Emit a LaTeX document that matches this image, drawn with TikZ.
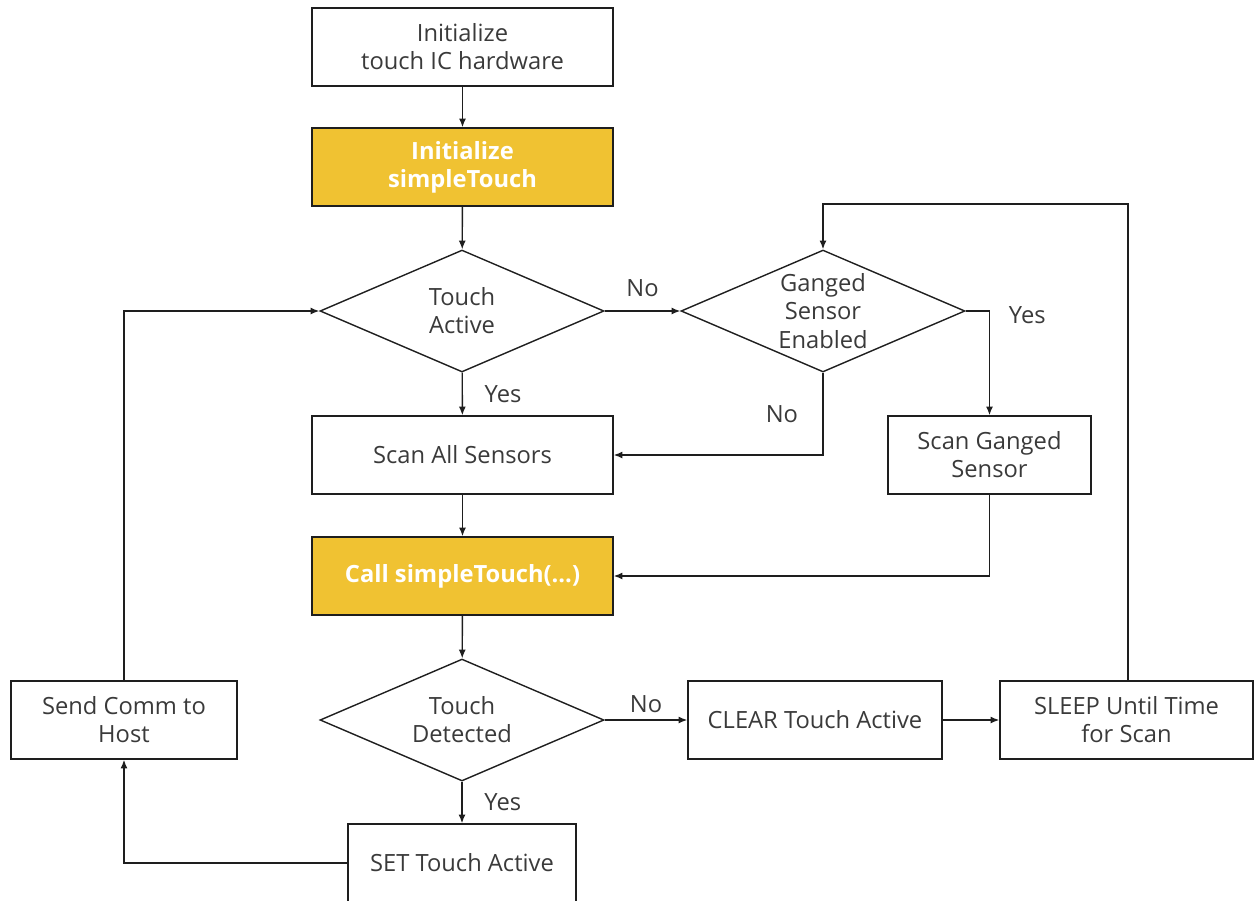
\documentclass[tikz,border=0pt]{standalone}
\usepackage{fontspec}
\setmainfont{Open Sans}
\usetikzlibrary{shapes.geometric,arrows.meta,positioning}
\definecolor{stYellow}{HTML}{F0C232}
\definecolor{txtGray}{HTML}{3A3A3A}
\definecolor{lineGray}{HTML}{1E1E1E}
\begin{document}
\begin{tikzpicture}[x=0.02cm, y=-0.02cm, line join=miter,
		font=\fontsize{13.5}{16}\selectfont, text=txtGray,
		box/.style={draw=lineGray, line width=0.8pt, align=center, minimum height=1.56cm, inner sep=2pt},
		stbox/.style={box, fill=stYellow, text=white, font=\fontsize{13.5}{16}\selectfont\bfseries},
		decision/.style={draw=lineGray, line width=0.8pt, diamond, shape aspect=2.33, align=center, inner sep=0pt, minimum width=5.68cm, minimum height=2.44cm},
		flow/.style={draw=lineGray, line width=0.8pt, -{Latex[length=5pt,width=4pt]}},
		tag/.style={text=txtGray, inner sep=1pt}]
	\useasboundingbox (0,0) rectangle (1254,900);
	\node[box, minimum width=6.02cm] (init) at (462.5,47) {Initialize\\touch IC hardware};
	\node[stbox, minimum width=6.02cm] (initST) at (462.5,167) {Initialize\\simpleTouch};
	\node[decision] (active) at (462,311) {Touch\\Active};
	\node[decision] (ganged) at (823,311) {Ganged\\Sensor\\Enabled};
	\node[box, minimum width=6.02cm] (scanAll) at (462.5,455) {Scan All Sensors};
	\node[box, minimum width=4.06cm] (scanGanged) at (989.5,455) {Scan Ganged\\Sensor};
	\node[stbox, minimum width=6.02cm] (callST) at (462.5,576) {Call simpleTouch(...)};
	\node[decision] (detected) at (462,720) {Touch\\Detected};
	\node[box, minimum width=5.08cm] (clear) at (815,720) {CLEAR Touch Active};
	\node[box, minimum width=5.06cm] (sleep) at (1126.5,720) {SLEEP Until Time\\for Scan};
	\node[box, minimum width=4.52cm] (send) at (124,720) {Send Comm to\\Host};
	\node[box, minimum width=4.56cm] (set) at (462,863) {SET Touch Active};
	\coordinate (loopTop) at (823,204);
	
	\draw[flow] (init) -- (initST);
	\draw[flow] (initST) -- (active);
	\draw[flow] (active) -- node[tag, midway, right=0.4cm]{Yes} (scanAll);
	\draw[flow] (active) -- node[tag, midway, above=0.24cm]{No} (ganged);
	\draw[flow] (ganged.south) |- node[tag, pos=0.25, left=0.45cm]{No} (scanAll.east);
	\draw[flow] (ganged.east) -| node[tag, pos=0.5, below right=-0.14cm and 0.34cm]{Yes} (scanGanged.north);
	\draw[flow] (scanAll) -- (callST);
	\draw[flow] (scanGanged.south) |- (callST.east);
	\draw[flow] (callST) -- (detected);
	\draw[flow] (detected) -- node[tag, midway, above=0.1cm]{No} (clear);
	\draw[flow] (detected) -- node[tag, midway, right=0.4cm]{Yes} (set);
	\draw[flow] (clear) -- (sleep);
	\draw[flow] (sleep.north -| 1128,0) |- (loopTop) -- (ganged.north);
	\draw[flow] (set.west) -| (send.south);
	\draw[flow] (send.north) |- (active.west);
\end{tikzpicture}
\end{document}
